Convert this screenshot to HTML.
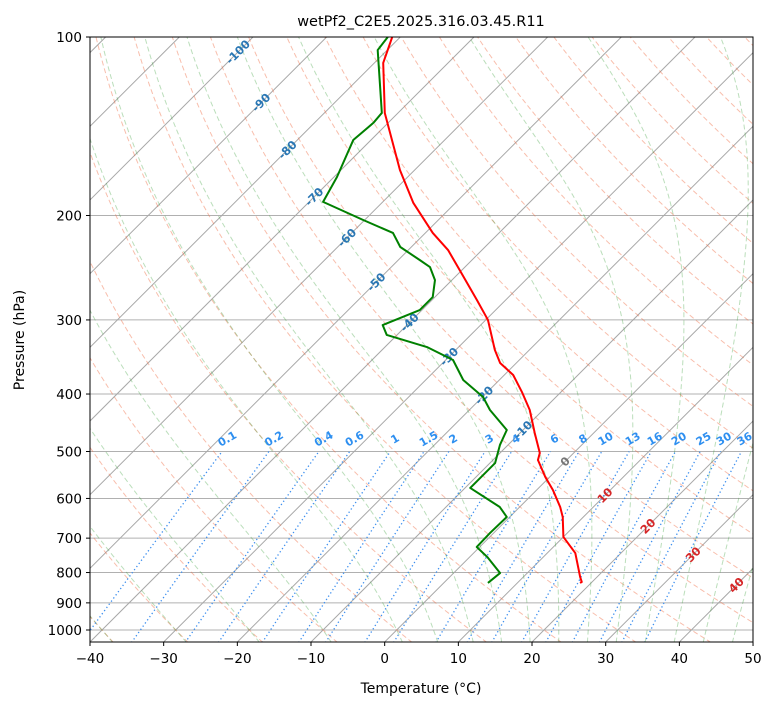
<!DOCTYPE html>
<html><head><meta charset="utf-8">
<style>
body{margin:0;background:#fff;}
svg{display:block;font-family:"DejaVu Sans","Liberation Sans",sans-serif;}
</style></head>
<body>
<svg id="chart" width="775" height="708" viewBox="0 0 775 708" xmlns="http://www.w3.org/2000/svg">
<defs><clipPath id="plotclip"><rect x="90" y="37" width="663" height="605"/></clipPath></defs>
<rect x="0" y="0" width="775" height="708" fill="#fff"/>
<text x="421" y="26" text-anchor="middle" font-size="14.5" fill="#000">wetPf2_C2E5.2025.316.03.45.R11</text>
<g id="plot" clip-path="url(#plotclip)"></g>
<g id="axes"></g>
<text x="421" y="693" text-anchor="middle" font-size="14">Temperature (°C)</text>
<text x="24" y="340" text-anchor="middle" font-size="14" transform="rotate(-90 24 340)">Pressure (hPa)</text>
</svg>
<script>
const tempP = [100,110.6,134.3,167.6,190.5,214,228.7,247.2,277.7,300,337,354.6,371.5,396.9,425.6,465.4,502.9,516.8,552,580.6,620.3,644.8,696.8,741.7,813.8,829.8,833];
const tempT = [-81.1,-78.8,-71.8,-62.0,-55.7,-49.0,-44.6,-40.3,-33.9,-29.7,-24.7,-22.2,-18.8,-15.3,-11.8,-8.0,-4.6,-3.9,-0.6,2.2,5.5,7.2,10.0,13.8,17.7,18.6,18.5];
const dewP = [100,105.2,134.3,139.6,149.2,172.2,189.7,203.5,214,226,237.7,244.3,257,274.5,288.7,306,318,333.3,350.5,378.8,404.7,425.6,460,487.5,523,576,620.3,644.8,686,724.4,753.3,801.6,833];
const dewT = [-81.7,-81.3,-72.2,-72.0,-72.4,-69.6,-68.1,-60.2,-54.4,-51.5,-47.1,-44.75,-42.3,-40.3,-40.3,-43.3,-41.4,-34.3,-29.0,-24.9,-19.9,-17.2,-12.2,-11.1,-9.3,-9.3,-2.7,-0.4,-0.5,-0.4,2.4,6.3,6.0];
const xTicks = [-40,-30,-20,-10,0,10,20,30,40,50];
const pTicks = [100,200,300,400,500,600,700,800,900,1000];
const isoLabelT = [-100,-90,-80,-70,-60,-50,-40,-30,-20,-10,0,10,20,30,40];
const isoLabelP = [106,129,155,186,218,259,303,346,402,460,520,593,668,746,840];
const mixRatios = [0.1,0.2,0.4,0.6,1,1.5,2,3,4,6,8,10,13,16,20,25,30,36];
const dryTheta = [];
for (let t=-50;t<=200;t+=10) dryTheta.push(t);
const moistT0 = [-50,-40,-30,-20,-10,0,5,10,14,18,22,26,30,34,38,42,46];

const NS="http://www.w3.org/2000/svg";
const plot=document.getElementById('plot'), axes=document.getElementById('axes');
function Y(p){return 37+593*(Math.log10(p)-2);}
function X(T,p){return 90+(T+40)*7.367+(642-Y(p));}
function mk(tag,attrs,parent){const e=document.createElementNS(NS,tag);for(const k in attrs)e.setAttribute(k,attrs[k]);parent.appendChild(e);return e;}
function pathFrom(ps,ts){let d='';for(let i=0;i<ps.length;i++)d+=(i?'L':'M')+X(ts[i],ps[i]).toFixed(2)+','+Y(ps[i]).toFixed(2);return d;}
const pGrid=[];for(let p=1050;p>=100;p*=0.98)pGrid.push(p);pGrid.push(100);

pTicks.forEach(p=>{
  const l=mk('line',{x1:90,x2:753,y1:Y(p),y2:Y(p),stroke:'#b0b0b0','stroke-width':1},plot);
  
  
});
for(let T=-150;T<=50;T+=10){
  const l=mk('line',{x1:X(T,1050),y1:Y(1050),x2:X(T,100),y2:Y(100),stroke:'#a8a8a8','stroke-width':1},plot);
  
  
}
dryTheta.forEach(th=>{
  const ts=pGrid.map(p=>(th+273.15)*Math.pow(p/1000,0.2857)-273.15);
  const e=mk('path',{d:pathFrom(pGrid,ts),fill:'none',stroke:'rgba(240,110,70,0.45)','stroke-width':1,'stroke-dasharray':'5,3'},plot);
  
  
});
function es(T){return 6.112*Math.exp(17.67*T/(T+243.5));}
function moistRate(T,p){const Tk=T+273.15,rs=0.622*es(T)/(p-es(T));const Rd=287,Lv=2.501e6,cp=1005;
  return (Rd*Tk+Lv*rs)/(cp+Lv*Lv*rs*0.622/(Rd*Tk*Tk))/p;}
moistT0.forEach(t0=>{
  const up=[],dn=[];let T=t0;
  for(let p=1000;p>=100;p-=5){up.push([p,T]);T-=moistRate(T,p)*5;}
  T=t0;for(let p=1000;p<=1050;p+=5){dn.push([p,T]);T+=moistRate(T,p)*5;}
  const all=dn.reverse().concat(up.slice(1));
  const e=mk('path',{d:pathFrom(all.map(a=>a[0]),all.map(a=>a[1])),fill:'none',stroke:'rgba(60,160,60,0.35)','stroke-width':1,'stroke-dasharray':'5,3'},plot);
  
  
});
function tdFromW(w,p){const e=p*w/(622+w);const l=Math.log(e/6.112);return 243.5*l/(17.67-l);}
const mp=[];for(let p=1050;p>=500;p-=10)mp.push(p);mp.push(500);
mixRatios.forEach(w=>{
  const e=mk('path',{d:pathFrom(mp,mp.map(p=>tdFromW(w,p))),fill:'none',stroke:'#3d8fef','stroke-width':1.3,'stroke-dasharray':'1.3,2.6'},plot);
  
  
  const lx=X(tdFromW(w,482),482),ly=Y(482);
  const t=mk('text',{x:lx,y:ly,'font-size':11,'font-weight':'bold',fill:'#2e8ff0','text-anchor':'middle',transform:`rotate(-30 ${lx} ${ly})`},plot);
  t.textContent=String(w);
  
  
});
isoLabelT.forEach((T,i)=>{
  const p=isoLabelP[i],lx=X(T,p),ly=Y(p)+4;
  const col=T<0?'#2a77b4':(T===0?'#777':'#d62728');
  const t=mk('text',{x:lx,y:ly,'font-size':11.5,'font-weight':'bold',fill:col,'text-anchor':'middle',transform:`rotate(-45 ${lx} ${ly-4})`},plot);
  t.textContent=String(T);
  
  
});
const tl=mk('path',{d:pathFrom(tempP,tempT),fill:'none',stroke:'#ff0000','stroke-width':2,'stroke-linejoin':'round'},plot);


const dl=mk('path',{d:pathFrom(dewP,dewT),fill:'none',stroke:'#008000','stroke-width':2,'stroke-linejoin':'round'},plot);



const fr=mk('rect',{x:90,y:37,width:663,height:605,fill:'none',stroke:'#000','stroke-width':1},axes);


xTicks.forEach(T=>{
  const x=90+(T+40)*7.367;
  const tk=mk('line',{x1:x,x2:x,y1:642,y2:646,stroke:'#000'},axes);
  
  
  const t=mk('text',{x:x,y:663,'font-size':13.5,'text-anchor':'middle'},axes);
  t.textContent=(T<0?'\u2212'+(-T):String(T));
  
  
});
pTicks.forEach(p=>{
  const y=Y(p);
  const tk=mk('line',{x1:86,x2:90,y1:y,y2:y,stroke:'#000'},axes);
  
  
  const t=mk('text',{x:82,y:y+5,'font-size':13.5,'text-anchor':'end'},axes);
  t.textContent=String(p);
  
  
});
</script>
</body></html>
